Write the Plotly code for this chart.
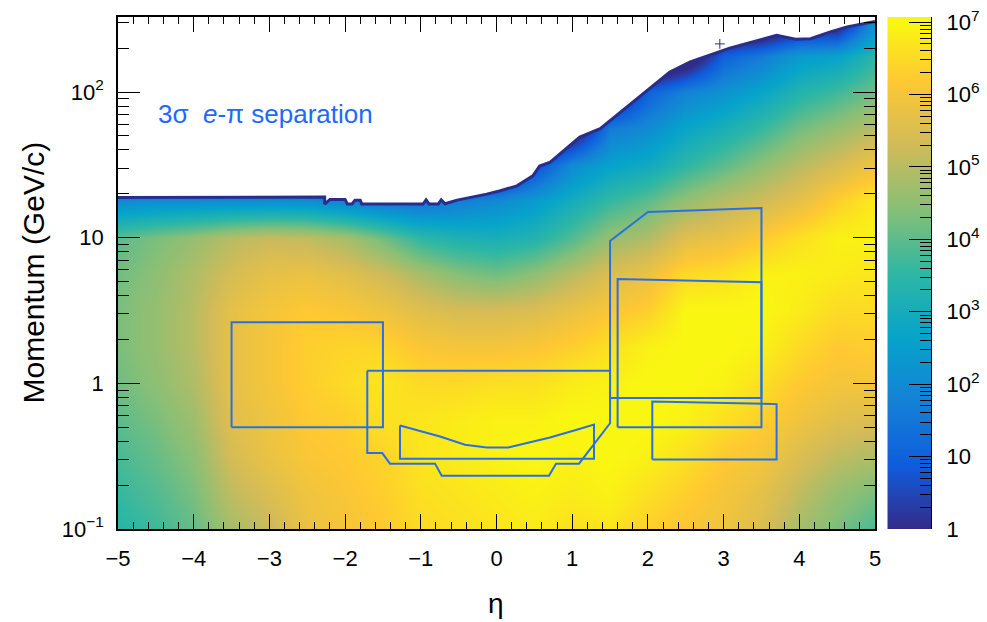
import numpy as np
import plotly.graph_objects as go

# ---------------- data ----------------
eta_grid = [-5.0, -4.5, -4.0, -3.5, -3.0, -2.5, -2.0, -1.5, -1.0, -0.5, 0.0,
            0.5, 1.0, 1.5, 2.0, 2.5, 3.0, 3.5, 4.0, 4.5, 5.0]
# log10(momentum) rows
logp_grid = [-1.0, -0.75, -0.5, -0.25, 0.0, 0.25, 0.5, 0.75, 1.0, 1.25, 1.5, 1.75, 2.0, 2.25, 2.5]
# log10(counts), one list per eta column (rows low -> high momentum)
log10_counts_columns = [
    [3.4, 3.6, 3.8, 4.0, 4.2, 4.3, 4.3, 4.2, 4.0, 2.0, -2, -2, -2, -2, -2],
    [3.7, 3.9, 4.1, 4.3, 4.5, 4.6, 4.6, 4.5, 4.3, 2.1, -2, -2, -2, -2, -2],
    [4.1, 4.3, 4.5, 4.7, 4.9, 5.0, 5.0, 4.9, 4.6, 2.1, -2, -2, -2, -2, -2],
    [4.8, 5.1, 5.4, 5.6, 5.7, 5.7, 5.7, 5.4, 5.0, 2.1, -2, -2, -2, -2, -2],
    [5.2, 5.5, 5.8, 5.9, 6.0, 6.0, 6.0, 5.7, 5.2, 2.1, -2, -2, -2, -2, -2],
    [5.8, 5.9, 6.1, 6.2, 6.3, 6.3, 6.2, 5.8, 5.1, 2.1, -2, -2, -2, -2, -2],
    [6.0, 6.1, 6.2, 6.3, 6.5, 6.4, 6.1, 5.6, 4.8, 1.8, -2, -2, -2, -2, -2],
    [6.2, 6.3, 6.4, 6.6, 6.7, 6.4, 5.9, 5.3, 4.2, 1.5, -2, -2, -2, -2, -2],
    [6.5, 6.6, 6.7, 6.7, 6.5, 6.1, 5.6, 4.8, 3.5, 1.4, -2, -2, -2, -2, -2],
    [6.6, 6.7, 6.8, 6.8, 6.5, 6.0, 5.4, 4.4, 3.2, 1.7, -2, -2, -2, -2, -2],
    [6.7, 6.8, 6.9, 6.9, 6.6, 6.0, 5.4, 4.2, 3.1, 2.0, -1, -2, -2, -2, -2],
    [6.8, 6.9, 7.0, 6.9, 6.6, 6.1, 5.5, 4.5, 3.3, 2.4, 0.5, -2, -2, -2, -2],
    [6.6, 6.8, 6.9, 7.0, 6.8, 6.3, 5.8, 5.0, 3.9, 3.0, 2.0, -1, -2, -2, -2],
    [6.7, 6.9, 7.0, 7.0, 6.9, 6.6, 6.1, 5.5, 4.6, 3.6, 2.6, 1.6, -1, -2, -2],
    [6.3, 6.6, 6.9, 7.0, 7.0, 6.9, 6.3, 5.8, 4.9, 4.0, 2.9, 2.0, 1.0, -2, -2],
    [6.1, 6.3, 6.6, 6.9, 7.0, 7.0, 7.0, 6.5, 5.6, 4.6, 3.5, 2.7, 1.8, -1, -2],
    [5.9, 6.0, 6.2, 6.6, 6.9, 7.0, 7.0, 6.6, 5.8, 5.0, 4.0, 3.1, 2.2, 1.0, -2],
    [5.5, 5.7, 6.0, 6.3, 6.6, 6.9, 7.0, 6.9, 6.2, 5.3, 4.5, 3.6, 2.7, 1.6, -2],
    [4.8, 5.1, 5.5, 5.9, 6.2, 6.5, 6.8, 6.9, 6.6, 5.7, 5.0, 4.2, 3.3, 2.4, -1],
    [4.3, 4.6, 5.1, 5.6, 6.0, 6.2, 6.5, 6.8, 6.9, 6.3, 5.4, 4.6, 3.7, 2.6, -1],
    [3.8, 4.3, 4.9, 5.5, 6.0, 6.3, 6.5, 6.7, 6.9, 6.8, 5.9, 5.0, 4.2, 3.4, 2.0],
]

# upper kinematic edge of the populated region (eta, momentum GeV/c)
edge_eta = [-5.0, -2.6, -2.27, -2.27, -2.20, -2.00, -1.97, -1.91, -1.87, -1.80, -1.78,
            -0.97, -0.93, -0.89, -0.77, -0.73, -0.68, -0.52, -0.35, -0.13, 0.05, 0.27,
            0.48, 0.57, 0.71, 1.10, 1.37, 1.67, 1.96, 2.29, 2.56, 3.08, 3.70, 3.95,
            4.15, 4.41, 4.63, 4.97, 5.0]
edge_p = [18.9, 19.1, 19.0, 17.0, 18.3, 18.3, 17.0, 17.0, 18.1, 18.1, 17.0,
          17.0, 18.2, 17.0, 17.0, 18.2, 17.1, 18.1, 18.8, 19.9, 21.0, 22.7,
          26.6, 31.0, 33.0, 49.0, 56.0, 75.0, 98.0, 137.0, 161.0, 200.0, 245.0, 230.0,
          232.0, 259.0, 280.0, 302.0, 305.0]

stray_eta = [2.95]
stray_p = [214.0]

# detector acceptance outlines (eta, momentum)
regions = {
    "backward": ([-3.5, -1.5, -1.5, -3.5, -3.5], [0.5, 0.5, 2.63, 2.63, 0.5]),
    "barrel": ([-1.707, 1.50, 1.50, 1.09, 0.786, 0.693, -0.724, -0.812, -1.407, -1.509, -1.707, -1.707],
               [1.22, 1.22, 0.532, 0.281, 0.281, 0.232, 0.232, 0.281, 0.281, 0.332, 0.332, 1.22]),
    "barrel_inner": ([-1.275, -0.746, -0.416, -0.13, 0.156, 0.707, 1.06, 1.288, 1.288, -1.275, -1.275],
                     [0.513, 0.431, 0.379, 0.363, 0.363, 0.425, 0.48, 0.521, 0.303, 0.303, 0.513]),
    "forward_outer": ([1.5, 1.5, 2.0, 3.5, 3.5, 1.5], [0.794, 9.5, 15.0, 16.0, 0.794, 0.794]),
    "forward_mid": ([1.6, 1.6, 3.5, 3.5, 1.6], [0.5, 5.2, 4.95, 0.5, 0.5]),
    "forward_low": ([2.058, 2.058, 3.70, 3.70, 2.058], [0.30, 0.75, 0.72, 0.30, 0.30]),
}

colorbar_levels = [0, 1, 2, 3, 4, 5, 6, 7]
colorbar_labels = ["1", "10", "10<sup>2</sup>", "10<sup>3</sup>", "10<sup>4</sup>",
                   "10<sup>5</sup>", "10<sup>6</sup>", "10<sup>7</sup>"]
ytick_p = [0.1, 1, 10, 100]
ytick_labels = ["10<sup>\u22121</sup>", "1", "10", "10<sup>2</sup>"]

# ---------------- styling ----------------
bird = [[0.0, "rgb(53,42,135)"], [0.125, "rgb(15,92,221)"], [0.25, "rgb(20,129,214)"],
        [0.375, "rgb(6,164,202)"], [0.5, "rgb(46,183,164)"], [0.625, "rgb(135,191,119)"],
        [0.75, "rgb(209,187,89)"], [0.875, "rgb(254,200,50)"], [1.0, "rgb(249,251,14)"]]
ZMAX = 7.07
Y_RANGE = [-1.0, 2.515]
X_RANGE = [-5.0, 5.0]
FONT = "Liberation Sans, Arial, Helvetica, sans-serif"
line_blue = "rgb(42,112,228)"
navy = "rgb(40,46,140)"

z = np.array(log10_counts_columns).T

fig = go.Figure()
fig.add_trace(go.Heatmap(x=eta_grid, y=logp_grid, z=z, colorscale=bird, zmin=0, zmax=ZMAX,
                         zsmooth="best", showscale=False, hoverinfo="skip"))

edge_lp = list(np.log10(edge_p))
mask_x = [X_RANGE[0] - 0.2] + edge_eta + [X_RANGE[1] + 0.2, X_RANGE[1] + 0.2, X_RANGE[0] - 0.2]
mask_y = [edge_lp[0]] + edge_lp + [edge_lp[-1], Y_RANGE[1] + 0.3, Y_RANGE[1] + 0.3]
fig.add_trace(go.Scatter(x=mask_x, y=mask_y, mode="lines", fill="toself", fillcolor="white",
                         line=dict(width=0, color="white"), hoverinfo="skip"))
fig.add_trace(go.Scatter(x=edge_eta, y=edge_lp, mode="lines",
                         line=dict(color=navy, width=3), hoverinfo="skip"))
fig.add_trace(go.Scatter(x=stray_eta, y=list(np.log10(stray_p)), mode="markers",
                         marker=dict(symbol="cross-thin", size=7, line=dict(color=navy, width=1))))

for name, (ex, pp) in regions.items():
    fig.add_trace(go.Scatter(x=ex, y=list(np.log10(pp)), mode="lines", name=name,
                             line=dict(color=line_blue, width=2), hoverinfo="skip"))

# colour bar as its own subplot
fig.add_trace(go.Heatmap(x=[0, 1], y=colorbar_levels, z=[[v, v] for v in colorbar_levels],
                         colorscale=bird, zmin=0, zmax=ZMAX, zsmooth="best", showscale=False,
                         xaxis="x3", yaxis="y3", hoverinfo="skip"))

minor_lp = [float(np.log10(k * 10.0 ** d)) for d in range(-1, 3) for k in range(2, 10)
            if np.log10(k * 10.0 ** d) < Y_RANGE[1]]
minor_cb = [float(np.log10(k * 10.0 ** d)) for d in range(0, 7) for k in range(2, 10)]

tickfont = dict(family=FONT, size=22, color="black")
main_w = 757 / 813

fig.update_layout(
    width=987, height=622, showlegend=False,
    margin=dict(l=118, r=56, t=17, b=93, autoexpand=False),
    paper_bgcolor="white", plot_bgcolor="white",
    font=dict(family=FONT, color="black"),
    xaxis=dict(domain=[0, main_w], range=X_RANGE, anchor="y", showline=True, mirror="ticks",
               linecolor="black", linewidth=1.5, ticks="inside", ticklen=15, tickwidth=1.3,
               tickcolor="black", tick0=0, dtick=1, showgrid=False, zeroline=False,
               tickfont=tickfont, ticklabelstandoff=9, automargin=False,
               minor=dict(ticks="inside", ticklen=7, tickwidth=1.3, tickcolor="black",
                          tick0=0, dtick=0.2, showgrid=False)),
    yaxis=dict(domain=[0, 1], range=Y_RANGE, anchor="x", showline=True, mirror="ticks",
               linecolor="black", linewidth=1.5, ticks="inside", ticklen=22, tickwidth=1.3,
               tickcolor="black", tickmode="array", tickvals=list(np.log10(ytick_p)),
               ticktext=ytick_labels, showgrid=False, zeroline=False, tickfont=tickfont,
               ticklabelstandoff=8, automargin=False,
               minor=dict(ticks="inside", ticklen=11, tickwidth=1.3, tickcolor="black",
                          tickmode="array", tickvals=minor_lp, showgrid=False)),
    xaxis3=dict(domain=[(887.3 - 118) / 813, 1.0], range=[0, 1], anchor="y3", visible=False,
                automargin=False),
    yaxis3=dict(domain=[0, 1], range=[0, ZMAX], anchor="x3", side="right", showline=True,
                linecolor="black", linewidth=1.3, ticks="inside", ticklen=22, tickwidth=1.3,
                tickcolor="black", tickmode="array", tickvals=colorbar_levels,
                ticktext=colorbar_labels, showgrid=False, zeroline=False, tickfont=tickfont,
                ticklabelstandoff=10, automargin=False, ticklabeloverflow="allow",
                minor=dict(ticks="inside", ticklen=11, tickwidth=1.3, tickcolor="black",
                           tickmode="array", tickvals=minor_cb, showgrid=False)),
    annotations=[
        dict(text="3\u03c3\u00a0 <i>e</i>-\u03c0 separation", xref="paper", yref="paper",
             x=(156 - 118) / 813, y=(529 - 113.5) / 512, xanchor="left", yanchor="middle",
             showarrow=False, font=dict(family=FONT, size=26, color="rgb(30,105,255)")),
        dict(text="Momentum (GeV/c)", xref="paper", yref="paper", x=(32.5 - 118) / 813, y=0.5,
             xanchor="center", yanchor="middle", textangle=-90, showarrow=False,
             font=dict(family=FONT, size=30, color="black")),
        dict(text="\u03b7", xref="paper", yref="paper", x=(495.5 - 118) / 813,
             y=(529 - 603) / 512, xanchor="center", yanchor="middle", showarrow=False,
             font=dict(family=FONT, size=28, color="black")),
    ],
)

fig.write_html("out.html", config={"displayModeBar": False},
               post_script="document.body.style.margin='0px';"
                           "document.body.style.overflow='hidden';")
